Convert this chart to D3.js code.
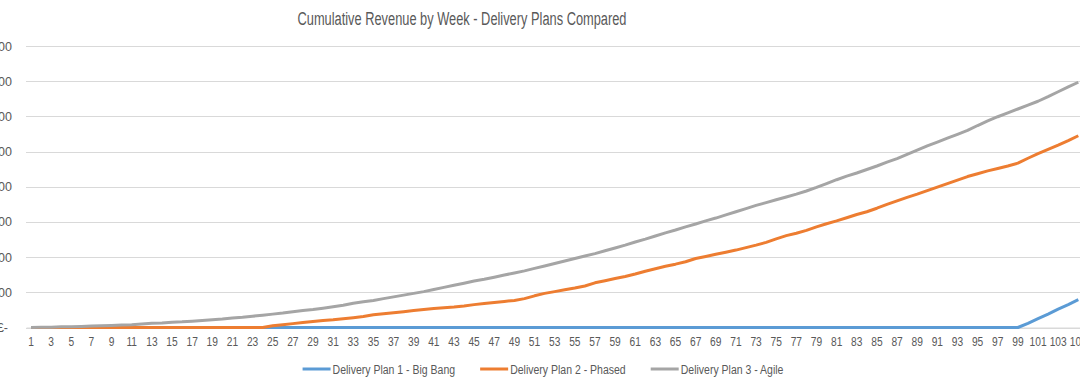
<!DOCTYPE html>
<html lang="en">
<head>
  <meta charset="UTF-8" />
  <title>Cumulative Revenue by Week</title>
  <script src="https://d3js.org/d3.v7.min.js"></script>
  <style>
    html, body { margin: 0; padding: 0; background: #fff; overflow: hidden; }
    text { font-family: "Liberation Sans", "DejaVu Sans", sans-serif; fill: #595959; }
  </style>
</head>
<body>
  <div id="chart"></div>

  <script>
    // weekly cumulative revenue, £ thousands
    let weeks = d3.range(1, 106);

    let bigBang = [
      0,0,0,0,0,0,0,0,0,0, 0,0,0,0,0,0,0,0,0,0,
      0,0,0,0,0,0,0,0,0,0, 0,0,0,0,0,0,0,0,0,0,
      0,0,0,0,0,0,0,0,0,0, 0,0,0,0,0,0,0,0,0,0,
      0,0,0,0,0,0,0,0,0,0, 0,0,0,0,0,0,0,0,0,0,
      0,0,0,0,0,0,0,0,0,0, 0,0,0,0,0,0,0,0,0,12,
      25,38,52,65,79
    ];

    let phased = [
      0,0,0,0,0,0,0,0,0,0, 0,0,0,0,0,0,0,0,0,0,
      0,0,0,0,5,8,11,14,17,20, 22,25,28,31,36,39,42,45,48,51,
      54,56,58,61,65,68,71,74,77,82, 90,97,102,107,112,118,127,133,139,145,
      152,160,167,174,180,187,196,202,208,214, 220,227,234,242,252,261,268,276,286,295,
      303,312,321,329,339,350,360,370,379,389, 399,409,419,429,437,445,452,459,467,481,
      494,506,518,531,545
    ];

    let agile = [
      0,1,1,2,2,3,4,5,6,7, 8,10,12,13,15,16,18,20,22,24,
      27,29,32,35,38,41,45,48,51,55, 59,63,69,73,77,82,87,92,97,102,
      108,114,120,126,132,137,143,149,155,161, 168,175,182,189,196,203,210,218,226,234,
      243,251,260,269,277,286,294,303,311,320, 329,338,347,355,363,371,379,388,398,409,
      420,430,439,449,459,470,480,492,504,516, 527,538,549,560,574,587,599,610,621,632,
      643,656,670,684,697
    ];

    let seriesNames = ["Delivery Plan 1 - Big Bang", "Delivery Plan 2 - Phased", "Delivery Plan 3 - Agile"];
    let seriesColors = ["#5B9BD5", "#ED7D31", "#A5A5A5"];
    let yTicks = [0, 100, 200, 300, 400, 500, 600, 700, 800];

    let W = 1080, H = 385;
    let band = 10.07;
    let left = 26;

    let svg = d3.select("#chart")
      .append("svg")
        .attr("width", W)
        .attr("height", H);

    // squeeze text a bit so it sits like the narrow original font
    function narrow(sel, k) {
      sel.each(function() {
        let w = this.getComputedTextLength();
        d3.select(this).attr("textLength", w * k).attr("lengthAdjust", "spacingAndGlyphs");
      });
    }

    let x = d3.scaleBand()
      .domain(weeks)
      .range([left, left + band * weeks.length])
      .padding(0);

    let y = d3.scaleLinear()
      .domain([0, 800])
      .range([327.5, 46]);

    // gridlines + y labels
    let yAxis = svg.append("g")
      .attr("transform", "translate(" + left + ",0)")
      .call(d3.axisLeft(y)
        .tickValues(yTicks)
        .tickSize(-(W - left + 10))
        .tickPadding(14)
        .tickFormat(function(d) { return d == 0 ? "£-" : "£" + d3.format(",")(d * 1000); }));
    yAxis.select(".domain").remove();
    yAxis.selectAll(".tick line")
      .attr("stroke", "#D9D9D9")
      .attr("stroke-width", 1)
      .attr("shape-rendering", "crispEdges");
    yAxis.selectAll(".tick text")
      .style("font-size", "12.5px")
      .style("fill", "#595959")
      .attr("dx", function(d) { return d == 0 ? -4 : 0; });

    // category axis
    let xAxis = svg.append("g")
      .attr("transform", "translate(0," + y(0) + ")")
      .call(d3.axisBottom(x)
        .tickValues(weeks.filter(function(d) { return d % 2 == 1; }))
        .tickSize(0)
        .tickPadding(10));
    xAxis.select(".domain").attr("stroke", "#D9D9D9");
    xAxis.selectAll(".tick text")
      .style("font-size", "12px")
      .style("fill", "#595959")
      .call(narrow, 0.85);

    // lines
    let line = d3.line()
      .x(function(d, i) { return x(weeks[i]) + x.bandwidth() / 2; })
      .y(function(d) { return y(d); });

    [bigBang, phased, agile].forEach(function(values, i) {
      svg.append("path")
        .datum(values)
        .attr("fill", "none")
        .attr("stroke", seriesColors[i])
        .attr("stroke-width", 3)
        .attr("stroke-linejoin", "round")
        .attr("d", line);
    });

    // title
    svg.append("text")
      .attr("x", 462)
      .attr("y", 25)
      .attr("text-anchor", "middle")
      .style("font-size", "18px")
      .attr("textLength", 329)
      .attr("lengthAdjust", "spacingAndGlyphs")
      .text("Cumulative Revenue by Week - Delivery Plans Compared");

    // legend
    let legend = svg.append("g");
    let lx = 0;
    seriesNames.forEach(function(name, i) {
      let item = legend.append("g").attr("transform", "translate(" + lx + ",0)");
      item.append("line")
        .attr("x1", 0).attr("x2", 28)
        .attr("y1", 0).attr("y2", 0)
        .attr("stroke", seriesColors[i])
        .attr("stroke-width", 3);
      let t = item.append("text")
        .attr("x", 30)
        .attr("y", 4.5)
        .style("font-size", "12.5px")
        .text(name)
        .call(narrow, 0.84);
      lx += 30 + (+t.attr("textLength")) + 25;
    });
    let legendWidth = lx - 25;
    legend.attr("transform", "translate(" + (543 - legendWidth / 2) + ",369)");
  </script>
</body>
</html>
